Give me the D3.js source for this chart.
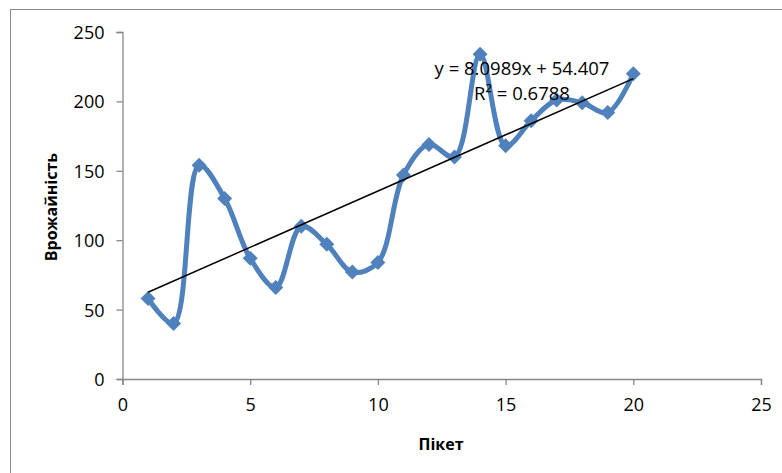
<!DOCTYPE html>
<html>
<head>
<meta charset="utf-8">
<script src="https://cdn.jsdelivr.net/npm/d3@7"></script>
<style>
  html, body { margin: 0; padding: 0; background: #fff; }
  svg { display: block; }
  text { font-family: "Open Sans", "Liberation Sans", sans-serif; fill: #000; }
</style>
</head>
<body>
<svg id="chart" width="782" height="473"></svg>
<script>
// ---- data ----
const piket = [1, 2, 3, 4, 5, 6, 7, 8, 9, 10, 11, 12, 13, 14, 15, 16, 17, 18, 19, 20];
const yieldValues = [58, 40, 154, 130, 87, 66, 110, 97, 77, 84, 147, 169, 160, 234, 168, 186, 201, 199, 192, 220];
const xTicks = [0, 5, 10, 15, 20, 25];
const yTicks = [0, 50, 100, 150, 200, 250];
const trendSlope = 8.0989;
const trendIntercept = 54.407;
const equationLabel = "y = 8.0989x + 54.407";
const r2Label = "R² = 0.6788";
const xTitle = "Пікет";
const yTitle = "Врожайність";

// ---- layout ----
const svg = d3.select("#chart");
const plotLeft = 122.5, plotRight = 761, plotTop = 32, plotBottom = 379;
const x = d3.scaleLinear().domain([0, 25]).range([plotLeft, plotRight]);
const y = d3.scaleLinear().domain([0, 250]).range([plotBottom, plotTop]);
const axisColor = "#868686";
const blue = "#4F81BD";

// chart border (extends past right/bottom edge)
svg.append("rect")
  .attr("x", 10.5).attr("y", 9.5)
  .attr("width", 800).attr("height", 500)
  .attr("fill", "none").attr("stroke", "#8a8a8a").attr("stroke-width", 1);

// y axis
const yAxis = svg.append("g").attr("transform", `translate(${plotLeft},0)`)
  .call(d3.axisLeft(y).tickValues(yTicks).tickSize(6).tickPadding(12));
// x axis
const xAxis = svg.append("g").attr("transform", `translate(0,${plotBottom})`)
  .call(d3.axisBottom(x).tickValues(xTicks).tickSize(6).tickPadding(13));
[xAxis, yAxis].forEach(g => {
  g.select(".domain").attr("stroke", axisColor).attr("stroke-width", 1.3);
  g.selectAll(".tick line").attr("stroke", axisColor).attr("stroke-width", 1.3);
  g.selectAll(".tick text")
    .style("font-family", '"Open Sans", sans-serif')
    .style("font-size", "18px").attr("fill", "#000");
});
yAxis.selectAll(".tick text").attr("dy", "0.36em");

// smoothed series line
const pts = piket.map((p, i) => [p, yieldValues[i]]);
const line = d3.line()
  .x(d => x(d[0])).y(d => y(d[1]))
  .curve(d3.curveCatmullRom.alpha(0.5));
svg.append("path")
  .datum(pts)
  .attr("d", line)
  .attr("fill", "none")
  .attr("stroke", blue)
  .attr("stroke-width", 5)
  .attr("stroke-linejoin", "round")
  .attr("stroke-linecap", "round");

// diamond markers
const r = 7.5;
svg.append("g").selectAll("path")
  .data(pts)
  .join("path")
  .attr("d", d => {
    const cx = x(d[0]), cy = y(d[1]);
    return `M${cx},${cy - r}L${cx + r},${cy}L${cx},${cy + r}L${cx - r},${cy}Z`;
  })
  .attr("fill", blue);

// linear trendline
const x0 = d3.min(piket), x1 = d3.max(piket);
svg.append("line")
  .attr("x1", x(x0)).attr("y1", y(trendIntercept + trendSlope * x0))
  .attr("x2", x(x1)).attr("y2", y(trendIntercept + trendSlope * x1))
  .attr("stroke", "#000").attr("stroke-width", 1.5);

// equation labels
svg.append("text")
  .attr("x", 522).attr("y", 75)
  .attr("text-anchor", "middle")
  .style("font-size", "18.5px")
  .text(equationLabel);
svg.append("text")
  .attr("x", 522).attr("y", 100)
  .attr("text-anchor", "middle")
  .style("font-size", "18.5px")
  .text(r2Label);

// axis titles
svg.append("text")
  .attr("x", 441).attr("y", 450)
  .attr("text-anchor", "middle")
  .style("font-size", "16px").style("font-weight", "bold")
  .text(xTitle);
svg.append("text")
  .attr("transform", "translate(57,207) rotate(-90)")
  .attr("text-anchor", "middle")
  .style("font-size", "16px").style("font-weight", "bold")
  .text(yTitle);
</script>
</body>
</html>
